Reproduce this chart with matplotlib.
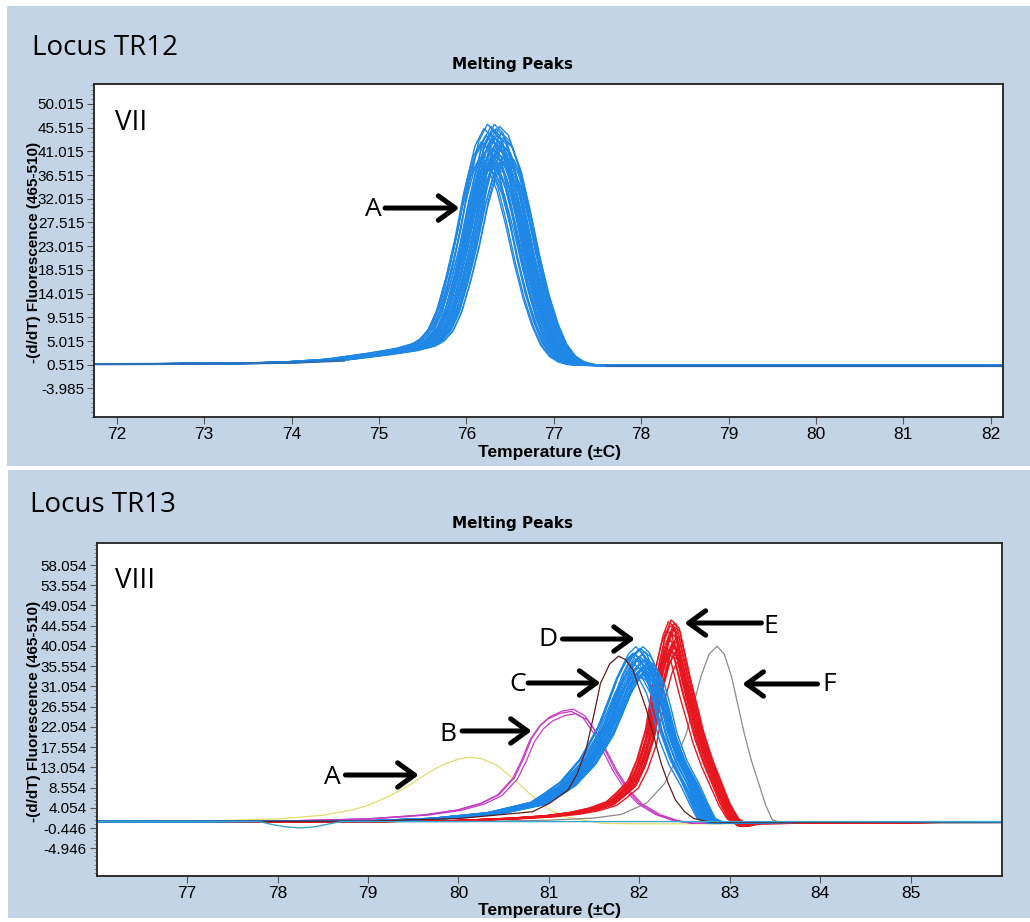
import numpy as np
import matplotlib
matplotlib.use('Agg')
import matplotlib.pyplot as plt
from matplotlib.patches import Rectangle
from matplotlib.ticker import AutoMinorLocator

# ---- TR12 (top) ----
top_T = [71.5, 72.5, 73.0, 73.5, 74.0, 74.5, 75.0, 75.3, 75.5, 75.6, 75.7, 75.8, 75.9, 76.0,
         76.1, 76.2, 76.3, 76.4, 76.5, 76.6, 76.7, 76.8, 76.9, 77.0, 77.1, 77.2, 77.3, 77.4,
         77.5, 78.0, 79.0, 80.0, 81.0, 82.5]
top_V = [0.7, 0.7, 0.75, 0.8, 1.0, 1.5, 2.6, 3.4, 4.3, 5.3, 7.2, 11.0, 17.0, 24.0,
         32.5, 39.0, 42.0, 40.5, 36.0, 29.0, 21.0, 14.0, 8.5, 4.5, 2.2, 1.1, 0.6, 0.45,
         0.4, 0.35, 0.35, 0.4, 0.4, 0.4]
top_dx = [-0.15, -0.13, -0.11, -0.10, -0.09, -0.08, -0.07, -0.06, -0.05, -0.04,
          -0.03, -0.03, -0.02, -0.02, -0.01, -0.01, 0.0, 0.0, 0.01, 0.01,
          0.02, 0.02, 0.03, 0.03, 0.04, 0.05, 0.05, 0.06, 0.07, 0.08,
          0.09, 0.10, 0.10, 0.11, 0.12, 0.13, 0.14, 0.15, -0.12, 0.0,
          -0.14, 0.06, 0.12, -0.06]
top_scale = [0.93, 1.02, 0.96, 1.08, 0.91, 1.05, 0.98, 1.10, 0.94, 1.00,
             1.06, 0.92, 0.97, 1.09, 1.03, 0.95, 1.07, 0.99, 0.93, 1.04,
             1.10, 0.96, 1.01, 0.91, 1.08, 0.97, 1.05, 0.94, 1.02, 1.09,
             0.98, 0.92, 1.06, 1.00, 0.95, 1.03, 0.93, 0.97, 1.01, 1.07,
             0.95, 0.99, 1.04, 0.90]
top_base_left_T = [71.5, 73.0, 74.0, 74.6]
top_base_left_V = [0.6, 0.7, 0.9, 1.3]
top_base_right_T = [77.6, 82.5]
top_base_right_V = [0.35, 0.35]
top_yticks = [-3.985, 0.515, 5.015, 9.515, 14.015, 18.515, 23.015, 27.515,
              32.015, 36.515, 41.015, 45.515, 50.015]
top_xticks = [72, 73, 74, 75, 76, 77, 78, 79, 80, 81, 82]

# ---- TR13 (bottom) ----
A_T = [75.5, 77.0, 78.0, 78.5, 78.83, 79.0, 79.23, 79.45, 79.63, 79.82, 80.0, 80.12, 80.25,
       80.42, 80.62, 80.82, 81.01, 81.2, 81.41, 81.6, 82.0, 83.0, 83.3]
A_V = [1.0, 1.0, 1.6, 2.4, 3.6, 4.6, 6.6, 9.0, 11.4, 13.6, 14.9, 15.3, 15.0,
       13.6, 10.3, 6.6, 3.6, 2.0, 1.2, 0.6, 0.5, 0.5, 0.8]
B_T = [75.5, 78.0, 79.0, 79.63, 80.0, 80.26, 80.45, 80.62, 80.72, 80.81, 80.91, 81.01, 81.15,
       81.27, 81.4, 81.53, 81.63, 81.73, 81.87, 82.0, 82.2, 82.4, 82.6, 83.0, 86.5]
B_V = [1.0, 1.1, 1.6, 2.5, 3.6, 5.1, 7.0, 10.8, 15.0, 19.5, 22.5, 24.3, 25.6,
       26.0, 24.5, 20.6, 16.5, 12.5, 8.0, 5.1, 2.6, 1.2, 0.6, 0.8, 1.0]
B_dx = [0.0, 0.03, -0.02]
B_scale = [1.0, 0.96, 0.98]
C_T = [75.5, 79.0, 80.02, 80.82, 81.01, 81.21, 81.31, 81.41, 81.5, 81.57, 81.67, 81.77, 81.85,
       81.93, 82.0, 82.08, 82.16, 82.24, 82.32, 82.4, 82.5, 82.6, 82.8, 86.5]
C_V = [1.0, 1.1, 1.7, 3.2, 5.1, 8.0, 11.5, 16.9, 25.0, 31.7, 36.0, 37.8, 37.0,
       34.7, 30.5, 25.8, 20.0, 14.0, 9.5, 5.8, 3.2, 1.7, 0.8, 1.0]
D_T = [75.5, 79.0, 79.8, 80.42, 80.9, 81.05, 81.23, 81.45, 81.65, 81.75, 81.85, 81.95, 82.03,
       82.1, 82.2, 82.27, 82.34, 82.45, 82.58, 82.68, 82.76, 82.88, 83.0, 86.5]
D_V = [1.0, 1.1, 1.7, 2.9, 5.1, 7.0, 9.5, 14.5, 21.5, 26.5, 31.7, 35.5, 37.0,
       35.8, 31.7, 26.5, 20.6, 14.5, 9.5, 5.0, 1.7, 0.6, 0.8, 1.0]
D_dx = [-0.12, -0.10, -0.08, -0.07, -0.06, -0.05, -0.04, -0.04, -0.03, -0.02, -0.02, -0.01,
        0.0, 0.0, 0.01, 0.01, 0.02, 0.03, 0.03, 0.04, 0.05, 0.06, 0.07, 0.08, -0.09, 0.02,
        -0.11, 0.05]
D_scale = [0.93, 1.04, 0.97, 1.08, 0.91, 1.00, 1.06, 0.95, 1.02, 0.90, 1.07, 0.98,
           1.03, 0.94, 1.08, 0.99, 0.92, 1.05, 0.96, 1.01, 0.93, 0.97, 0.95, 0.99, 1.04,
           0.96, 1.02, 0.92]
E_T = [75.5, 79.0, 80.0, 80.62, 81.0, 81.29, 81.5, 81.69, 81.8, 81.93, 82.03, 82.13, 82.22,
       82.3, 82.36, 82.42, 82.52, 82.6, 82.66, 82.76, 82.86, 82.95, 83.04, 83.16, 83.3, 86.5]
E_V = [1.0, 1.0, 1.2, 1.7, 2.2, 2.9, 3.8, 5.1, 7.0, 9.5, 14.0, 20.6, 31.7,
       38.5, 41.4, 40.5, 31.7, 25.5, 20.6, 14.5, 9.5, 5.0, 1.7, 0.0, 0.6, 1.0]
E_dx = [-0.07, -0.06, -0.05, -0.04, -0.03, -0.03, -0.02, -0.01, -0.01, 0.0, 0.0,
        0.01, 0.01, 0.02, 0.02, 0.03, 0.04, 0.05, 0.06, -0.02, 0.0, 0.03]
E_scale = [0.90, 1.05, 0.95, 1.10, 0.92, 1.00, 1.08, 0.94, 1.11, 0.97, 1.03,
           0.91, 1.06, 0.96, 1.09, 0.93, 0.99, 1.02, 0.88, 1.04, 0.98, 1.07]
E_dark_dx = [0.02, -0.03]
E_dark_scale = [0.92, 1.0]
F_T = [75.5, 80.0, 81.0, 81.5, 81.8, 82.08, 82.28, 82.4, 82.52, 82.6, 82.68, 82.77, 82.86,
       82.94, 83.02, 83.1, 83.16, 83.24, 83.32, 83.4, 83.47, 83.59, 86.5]
F_V = [1.0, 1.0, 1.3, 1.8, 2.6, 5.1, 9.5, 14.5, 20.6, 27.0, 33.2, 38.2, 40.0,
       38.2, 33.2, 26.0, 20.6, 14.5, 9.5, 4.5, 1.4, 0.6, 0.7]
dip_T = [75.5, 77.8, 77.95, 78.1, 78.25, 78.4, 78.55, 78.7, 86.5]
dip_V = [1.0, 1.0, 0.3, -0.2, -0.4, -0.2, 0.4, 1.0, 1.0]
bot_yticks = [-4.946, -0.446, 4.054, 8.554, 13.054, 17.554, 22.054, 26.554,
              31.054, 35.554, 40.054, 44.554, 49.054, 53.554, 58.054]
bot_xticks = [77, 78, 79, 80, 81, 82, 83, 84, 85]

bg = '#c2d4e5'
W, H = 1030, 922
fig = plt.figure(figsize=(W / 100, H / 100), dpi=100, facecolor='white')
fig.patches.append(Rectangle((7 / W, 1 - 466 / H), 1 - 7 / W, 460 / H, transform=fig.transFigure,
                             facecolor=bg, edgecolor='none', zorder=-10))
fig.patches.append(Rectangle((8 / W, 1 - 918 / H), 1 - 8 / W, 448 / H, transform=fig.transFigure,
                             facecolor=bg, edgecolor='none', zorder=-10))

label_font = ['Open Sans', 'DejaVu Sans']
tick_font = ['Liberation Sans Narrow', 'Liberation Sans', 'DejaVu Sans']
axis_font = ['Liberation Sans', 'DejaVu Sans']


def band(ax, T, V, dxs, scales, color, lw=0.9, base=1.0):
    T = np.array(T)
    V = np.array(V)
    for dx, s in zip(dxs, scales):
        ax.plot(T + dx, base + (V - base) * s, color=color, lw=lw)


def style(ax, xlim, ylim, xticks, yticks):
    ax.set_xlim(*xlim)
    ax.set_ylim(*ylim)
    ax.set_xticks(xticks)
    ax.set_xticklabels([str(t) for t in xticks], family=tick_font, fontsize=12.5)
    ax.set_yticks(yticks)
    ax.set_yticklabels(['%.3f' % t for t in yticks], family=tick_font, fontsize=11)
    ax.yaxis.set_minor_locator(AutoMinorLocator(5))
    ax.tick_params(axis='both', direction='out', length=5, width=0.8, color='#555555', pad=2)
    ax.tick_params(axis='y', which='minor', length=2.5, width=0.6, color='#777777')
    for sp in ax.spines.values():
        sp.set_color('#222222')
        sp.set_linewidth(1.3)


def arrow(ax, tail, head):
    ax.annotate('', xy=head, xytext=tail,
                arrowprops=dict(arrowstyle='->,head_length=0.55,head_width=0.4', lw=3.6,
                                color='black', shrinkA=0, shrinkB=0, mutation_scale=22))


# top panel
ax1 = fig.add_axes([94 / W, 1 - 417 / H, 909 / W, 333 / H])
band(ax1, top_T, top_V, top_dx, top_scale, '#1f87e6', lw=1.0, base=0.5)
ax1.plot(top_base_left_T, top_base_left_V, color='#2a6fb8', lw=1.6)
ax1.plot(top_base_right_T, top_base_right_V, color='#2a6fb8', lw=1.6)
style(ax1, (71.74, 82.14), (-9.4, 53.8), top_xticks, top_yticks)
ax1.text(0.023, 0.862, 'VII', transform=ax1.transAxes, family=label_font, fontsize=20)
ax1.text(74.94, 29.9, 'A', family=label_font, fontsize=19, ha='center', va='center')
arrow(ax1, (75.07, 30.26), (75.92, 30.26))

# bottom panel
ax2 = fig.add_axes([96.7 / W, 1 - 876 / H, 905.3 / W, 333 / H])
ax2.plot(A_T, A_V, color='#e2dc6a', lw=0.9)
band(ax2, F_T, F_V, [0.0], [1.0], '#8a8a8a')
band(ax2, B_T, B_V, B_dx, B_scale, '#c43cc4')
band(ax2, E_T, E_V, E_dark_dx, E_dark_scale, '#8a1a1a', lw=0.8)
band(ax2, E_T, E_V, E_dx, E_scale, '#e8161e', lw=1.0)
band(ax2, D_T, D_V, D_dx, D_scale, '#1a86e8', lw=1.0)
band(ax2, C_T, C_V, [0.0], [1.0], '#5e1c1c')
ax2.plot(dip_T, dip_V, color='#3aa8cc', lw=1.0)
style(ax2, (76.0, 86.01), (-11.1, 62.95), bot_xticks, bot_yticks)
ax2.text(0.02, 0.865, 'VIII', transform=ax2.transAxes, family=label_font, fontsize=20)

labels = ['A', 'B', 'C', 'D', 'E', 'F']
label_pos = [(78.60, 10.9), (79.88, 20.3), (80.66, 31.4), (80.99, 41.4), (83.45, 44.3), (84.10, 31.4)]
arrow_tail = [(78.75, 11.36), (80.04, 21.15), (80.77, 31.82), (81.15, 41.6), (83.35, 45.16), (83.97, 31.6)]
arrow_head = [(79.56, 11.36), (80.81, 21.15), (81.57, 31.82), (81.95, 41.6), (82.50, 45.16), (83.14, 31.6)]
for lab, p, t, h in zip(labels, label_pos, arrow_tail, arrow_head):
    ax2.text(p[0], p[1], lab, family=label_font, fontsize=19, ha='center', va='center')
    arrow(ax2, t, h)

# figure texts
fig.text(32 / W, 1 - 55 / H, 'Locus TR12', family=label_font, fontsize=20, va='baseline')
fig.text(30 / W, 1 - 512 / H, 'Locus TR13', family=label_font, fontsize=20, va='baseline')
for yc in (64, 523):
    fig.text(512 / W, 1 - yc / H, 'Melting Peaks', family='DejaVu Sans', weight='bold',
             fontsize=11, ha='center', va='center')
for yc in (252, 711):
    fig.text(34 / W, 1 - yc / H, '-(d/dT) Fluorescence (465-510)', family=axis_font,
             weight='bold', fontsize=11, rotation=90, ha='center', va='center')
for yc in (453, 910):
    fig.text(549 / W, 1 - yc / H, 'Temperature (\u00b1C)', family=tick_font,
             weight='bold', fontsize=12.5, ha='center', va='center')

fig.savefig('out.png', dpi=100, facecolor='white')
